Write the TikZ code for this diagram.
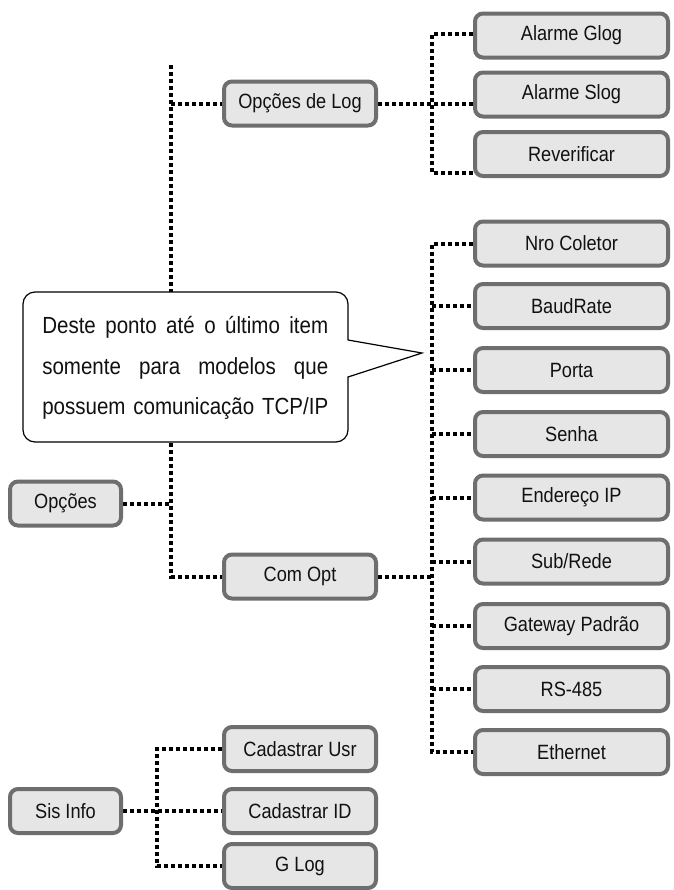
\documentclass[tikz,border=0pt]{standalone}
\usepackage{fontspec}
\setmainfont[FakeStretch=0.88]{Liberation Sans}
\usetikzlibrary{backgrounds}
\definecolor{boxfill}{HTML}{E6E6E6}
\definecolor{boxline}{HTML}{6E6E6E}
\definecolor{txt}{HTML}{111111}
\tikzset{
  box/.style={draw=boxline, fill=boxfill, line width=3pt, rounded corners=6pt,
    inner sep=0pt, minimum height=33pt, text=txt, font=\fontsize{15.5}{18}\selectfont},
  rbox/.style={box, minimum width=144.75pt},
  mbox/.style={box, minimum width=114pt},
  lbox/.style={box, minimum width=83.25pt},
  dot/.style={line width=3pt, dash pattern=on 3pt off 2.25pt, line cap=butt, black},
  ctext/.style={anchor=base west, inner sep=0pt, text=txt, font=\fontsize{17.5}{21}\selectfont}
}
\begin{document}
\begin{tikzpicture}[x=0.75pt, y=-0.75pt]
\useasboundingbox (0,0) rectangle (674,890);

% left column
\node[lbox] (opc) at (65.5,503.5) {Opções};
\node[lbox] (sis) at (65.5,811) {Sis Info};
% middle column
\node[mbox] (optlog) at (300,103.5) {Opções de Log};
\node[mbox] (comopt) at (300,576.5) {Com Opt};
\node[mbox] (cadusr) at (300,749) {Cadastrar Usr};
\node[mbox] (cadid) at (300,811) {Cadastrar ID};
\node[mbox] (glog) at (300,866) {G Log};
% right column, log options
\node[rbox] (alglog) at (571.5,35.5) {Alarme Glog};
\node[rbox] (alslog) at (571.5,94.5) {Alarme Slog};
\node[rbox] (rever) at (571.5,154) {Reverificar};
% right column, com options
\node[rbox] (nro) at (571.5,243.5) {Nro Coletor};
\node[rbox] (baud) at (571.5,306) {BaudRate};
\node[rbox] (porta) at (571.5,370) {Porta};
\node[rbox] (senha) at (571.5,434) {Senha};
\node[rbox] (ender) at (571.5,497.5) {Endereço IP};
\node[rbox] (sub) at (571.5,561.5) {Sub/Rede};
\node[rbox] (gate) at (571.5,626) {Gateway Padrão};
\node[rbox] (rs) at (571.5,689) {RS-485};
\node[rbox] (eth) at (571.5,752) {Ethernet};

\coordinate (lbtop) at (171,65);
\coordinate (ob1) at (432,34);
\coordinate (ob3) at (432,173);
\coordinate (cbx) at (432,0);
\coordinate (sbx) at (157,0);

\begin{scope}[on background layer]
\fill[white] (0,0) rectangle (674,890);
\draw[dot] (lbtop) |- (comopt.west);
\draw[dot] (opc.east) -- (opc.east -| lbtop);
\draw[dot] (optlog.west -| lbtop) -- (optlog.west);
\draw[dot] (ob1 -| alglog.west) -- (ob1) -- (ob3) -- (ob3 -| rever.west);
\draw[dot] (optlog.east) -- (optlog.east -| alslog.west);
\draw[dot] (nro.west) -- (nro.west -| cbx) -- (eth.west -| cbx) -- (eth.west);
\foreach \b in {baud,porta,senha,ender,sub,gate,rs}
  \draw[dot] (\b.west -| cbx) -- (\b.west);
\draw[dot] (comopt.east) -- (comopt.east -| cbx);
\draw[dot] (cadusr.west) -- (cadusr.west -| sbx) -- (glog.west -| sbx) -- (glog.west);
\draw[dot] (sis.east) -- (cadid.west);
\end{scope}

% callout
\draw[fill=white, line width=0.9pt, rounded corners=9pt] (23,292) rectangle (348,442);
\fill[white] (346,340) -- (422,353) -- (346,377) -- cycle;
\draw[line width=0.9pt] (348,340) -- (422,353) -- (348,377);
\node[ctext] (c1) at (42,333) {\makebox[214.5pt][s]{Deste ponto até o último item}};
\node[ctext] (c2) at (42,374) {\makebox[214.5pt][s]{somente para modelos que}};
\node[ctext] (c3) at (42,414) {\makebox[214.5pt][s]{possuem comunicação TCP/IP}};
\end{tikzpicture}
\end{document}
